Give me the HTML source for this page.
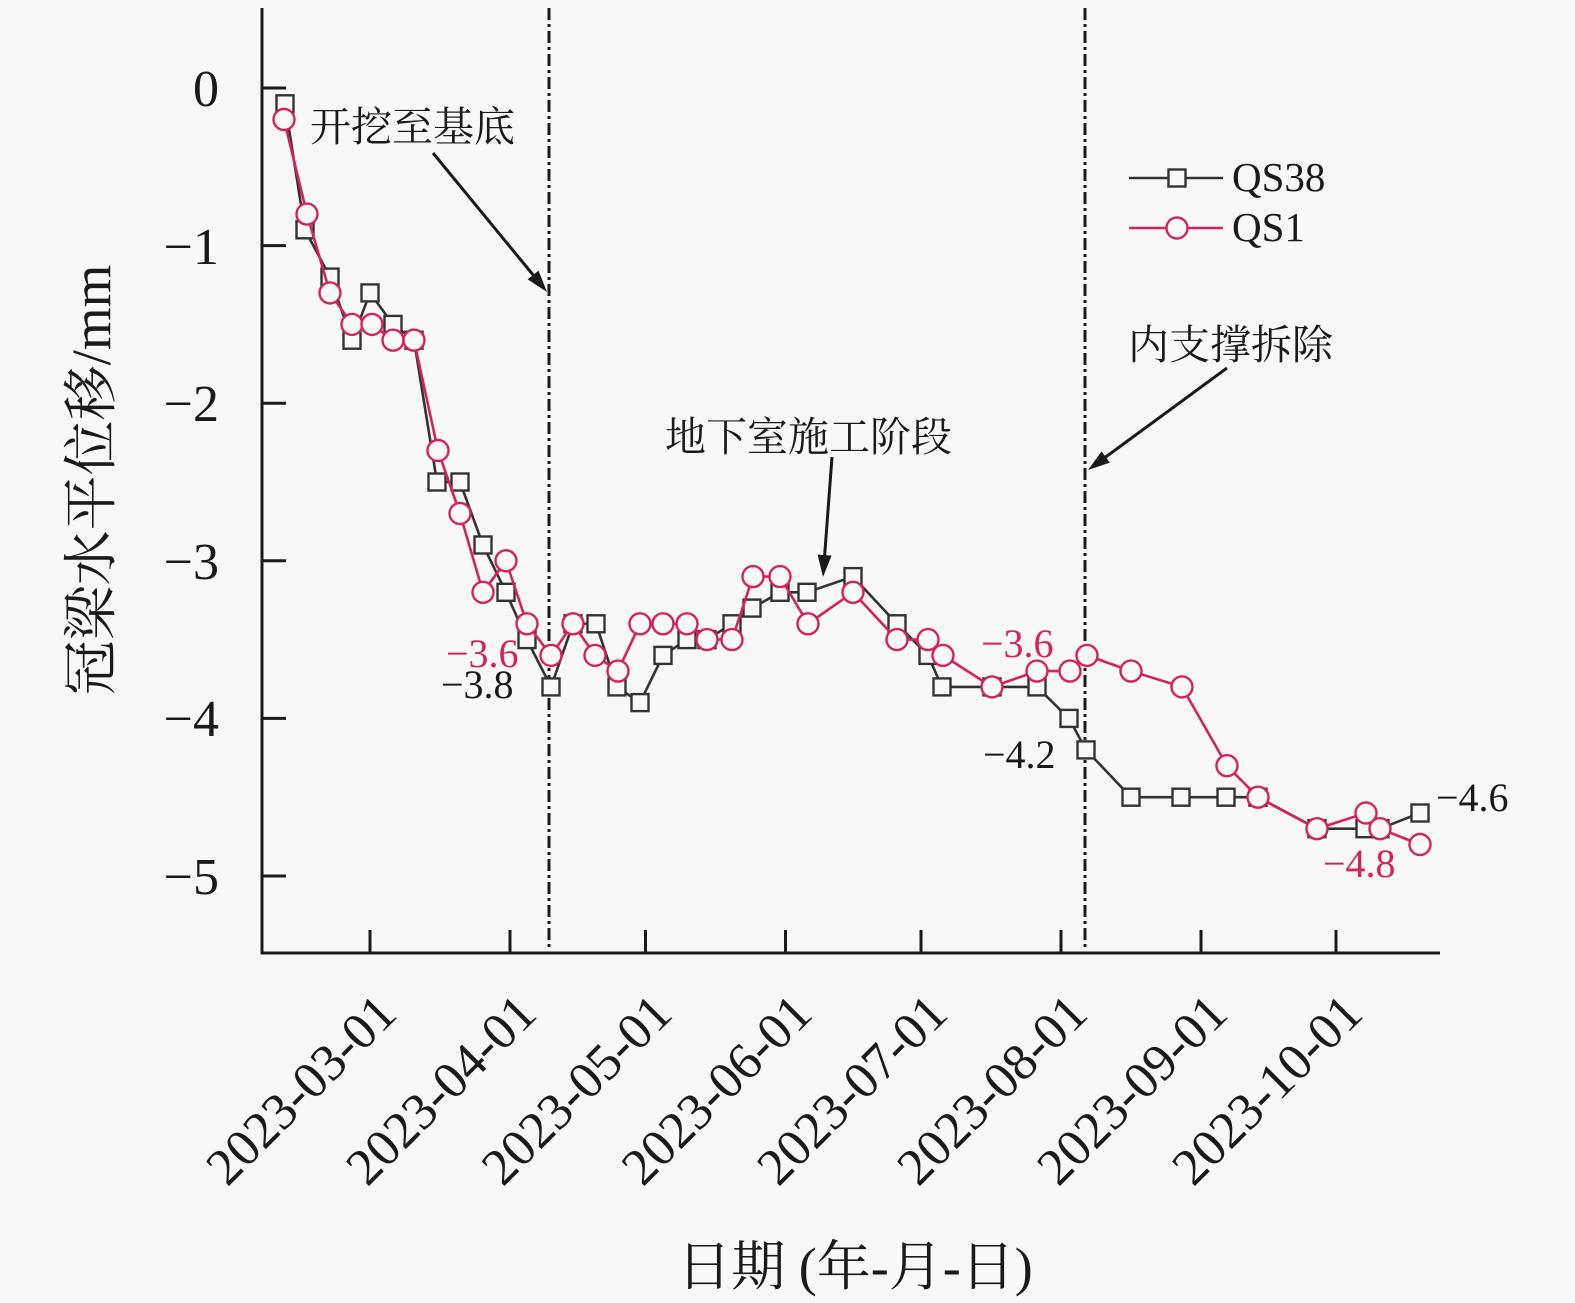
<!DOCTYPE html>
<html>
<head>
<meta charset="utf-8">
<style>
  html, body { margin:0; padding:0; background:#f8f8f8; }
  svg { display:block; }
  .ser { font-family: "Liberation Serif", "Noto Serif CJK SC", serif; }
</style>
</head>
<body>
<svg width="1575" height="1303" viewBox="0 0 1575 1303" xmlns="http://www.w3.org/2000/svg">
  <rect x="0" y="0" width="1575" height="1303" fill="#f8f8f8"/>

  <g stroke="#1a1a1a" stroke-width="3" fill="none">
    <line x1="262" y1="8" x2="262" y2="954"/>
    <line x1="261" y1="953" x2="1440" y2="953"/>
    <line x1="262" y1="88" x2="286" y2="88"/>
    <line x1="262" y1="245.6" x2="286" y2="245.6"/>
    <line x1="262" y1="403.2" x2="286" y2="403.2"/>
    <line x1="262" y1="560.8" x2="286" y2="560.8"/>
    <line x1="262" y1="718.4" x2="286" y2="718.4"/>
    <line x1="262" y1="876" x2="286" y2="876"/>
    <line x1="370" y1="953" x2="370" y2="930"/>
    <line x1="510" y1="953" x2="510" y2="930"/>
    <line x1="645.5" y1="953" x2="645.5" y2="930"/>
    <line x1="785.5" y1="953" x2="785.5" y2="930"/>
    <line x1="921" y1="953" x2="921" y2="930"/>
    <line x1="1061" y1="953" x2="1061" y2="930"/>
    <line x1="1201" y1="953" x2="1201" y2="930"/>
    <line x1="1336" y1="953" x2="1336" y2="930"/>
  </g>

  <g class="ser" font-size="52" fill="#1a1a1a" text-anchor="end">
    <text x="219" y="106">0</text>
    <text x="219" y="264">−1</text>
    <text x="219" y="421">−2</text>
    <text x="219" y="579">−3</text>
    <text x="219" y="736">−4</text>
    <text x="219" y="894">−5</text>
  </g>

  <g class="ser" font-size="52" fill="#1a1a1a" text-anchor="end">
    <text transform="translate(399,1016) rotate(-45)">2023-03-01</text>
    <text transform="translate(539,1016) rotate(-45)">2023-04-01</text>
    <text transform="translate(674.5,1016) rotate(-45)">2023-05-01</text>
    <text transform="translate(814.5,1016) rotate(-45)">2023-06-01</text>
    <text transform="translate(950,1016) rotate(-45)">2023-07-01</text>
    <text transform="translate(1090,1016) rotate(-45)">2023-08-01</text>
    <text transform="translate(1230,1016) rotate(-45)">2023-09-01</text>
    <text transform="translate(1365,1016) rotate(-45)">2023-10-01</text>
  </g>

  <text class="ser" x="855" y="1285" font-size="54" fill="#1a1a1a" text-anchor="middle">日期 (年-月-日)</text>
  <text class="ser" transform="translate(110,480) rotate(-90)" font-size="55" fill="#1a1a1a" text-anchor="middle">冠梁水平位移/mm</text>

  <g stroke="#1a1a1a" stroke-width="3" stroke-dasharray="12 4 3 4" fill="none">
    <line x1="549" y1="8" x2="549" y2="951"/>
    <line x1="1085" y1="8" x2="1085" y2="951"/>
  </g>

  <g class="ser" font-size="41" fill="#1a1a1a">
    <text x="310" y="141">开挖至基底</text>
    <text x="665" y="451">地下室施工阶段</text>
    <text x="1128" y="359">内支撑拆除</text>
  </g>
  <g stroke="#1a1a1a" stroke-width="3" fill="none">
    <line x1="433" y1="153" x2="534" y2="276"/>
    <line x1="832" y1="457" x2="824.6" y2="556"/>
    <line x1="1227" y1="368" x2="1105" y2="457.5"/>
  </g>
  <g fill="#1a1a1a" stroke="none">
    <polygon points="547,292 527.7,279.4 538.5,270.6"/>
    <polygon points="823,577 817.6,554.6 831.6,555.6"/>
    <polygon points="1088,470 1101.6,451.4 1109.8,462.6"/>
  </g>

  <polyline fill="none" stroke="#333333" stroke-width="2.6" stroke-linejoin="round"
    points="285,103.8 305,229.8 330,277.1 352,340.2 370,292.9 393,324.4 414,340.2 437,482 460,482 483,545 506,592.3 527,639.6 551,686.9 573,623.8 596,623.8 617,686.9 640,702.6 663,655.4 687,639.6 707,639.6 732,623.8 752,608.1 780,592.3 807,592.3 853,576.6 897,623.8 928,655.4 942,686.9 992,686.9 1037,686.9 1069,718.4 1086,749.9 1131,797.2 1181,797.2 1226,797.2 1258,797.2 1317,828.7 1365,828.7 1380,828.7 1420,813"/>
  <g fill="#f8f8f8" stroke="#333333" stroke-width="2.4">
    <rect x="276.5" y="95.3" width="17" height="17"/>
    <rect x="296.5" y="221.3" width="17" height="17"/>
    <rect x="321.5" y="268.6" width="17" height="17"/>
    <rect x="343.5" y="331.7" width="17" height="17"/>
    <rect x="361.5" y="284.4" width="17" height="17"/>
    <rect x="384.5" y="315.9" width="17" height="17"/>
    <rect x="405.5" y="331.7" width="17" height="17"/>
    <rect x="428.5" y="473.5" width="17" height="17"/>
    <rect x="451.5" y="473.5" width="17" height="17"/>
    <rect x="474.5" y="536.5" width="17" height="17"/>
    <rect x="497.5" y="583.8" width="17" height="17"/>
    <rect x="518.5" y="631.1" width="17" height="17"/>
    <rect x="542.5" y="678.4" width="17" height="17"/>
    <rect x="564.5" y="615.3" width="17" height="17"/>
    <rect x="587.5" y="615.3" width="17" height="17"/>
    <rect x="608.5" y="678.4" width="17" height="17"/>
    <rect x="631.5" y="694.1" width="17" height="17"/>
    <rect x="654.5" y="646.9" width="17" height="17"/>
    <rect x="678.5" y="631.1" width="17" height="17"/>
    <rect x="698.5" y="631.1" width="17" height="17"/>
    <rect x="723.5" y="615.3" width="17" height="17"/>
    <rect x="743.5" y="599.6" width="17" height="17"/>
    <rect x="771.5" y="583.8" width="17" height="17"/>
    <rect x="798.5" y="583.8" width="17" height="17"/>
    <rect x="844.5" y="568.1" width="17" height="17"/>
    <rect x="888.5" y="615.3" width="17" height="17"/>
    <rect x="919.5" y="646.9" width="17" height="17"/>
    <rect x="933.5" y="678.4" width="17" height="17"/>
    <rect x="983.5" y="678.4" width="17" height="17"/>
    <rect x="1028.5" y="678.4" width="17" height="17"/>
    <rect x="1060.5" y="709.9" width="17" height="17"/>
    <rect x="1077.5" y="741.4" width="17" height="17"/>
    <rect x="1122.5" y="788.7" width="17" height="17"/>
    <rect x="1172.5" y="788.7" width="17" height="17"/>
    <rect x="1217.5" y="788.7" width="17" height="17"/>
    <rect x="1249.5" y="788.7" width="17" height="17"/>
    <rect x="1308.5" y="820.2" width="17" height="17"/>
    <rect x="1356.5" y="820.2" width="17" height="17"/>
    <rect x="1371.5" y="820.2" width="17" height="17"/>
    <rect x="1411.5" y="804.5" width="17" height="17"/>
  </g>

  <polyline fill="none" stroke="#d4235a" stroke-width="2.6" stroke-linejoin="round"
    points="284,119.5 307,214.1 330,292.9 352,324.4 372,324.4 393,340.2 414,340.2 438,450.5 460,513.5 483,592.3 506,560.8 527,623.8 551,655.4 573,623.8 595,655.4 618,671.1 640,623.8 663,623.8 687,623.8 707,639.6 732,639.6 753,576.6 780,576.6 808,623.8 853,592.3 897,639.6 928,639.6 943,655.4 992,686.9 1037,671.1 1070,671.1 1087,655.4 1131,671.1 1182,686.9 1227,765.7 1258,797.2 1317,828.7 1366,813 1380,828.7 1420,844.5"/>
  <g fill="#f8f8f8" stroke="#d4235a" stroke-width="2.4">
    <circle cx="284" cy="119.5" r="10.5"/>
    <circle cx="307" cy="214.1" r="10.5"/>
    <circle cx="330" cy="292.9" r="10.5"/>
    <circle cx="352" cy="324.4" r="10.5"/>
    <circle cx="372" cy="324.4" r="10.5"/>
    <circle cx="393" cy="340.2" r="10.5"/>
    <circle cx="414" cy="340.2" r="10.5"/>
    <circle cx="438" cy="450.5" r="10.5"/>
    <circle cx="460" cy="513.5" r="10.5"/>
    <circle cx="483" cy="592.3" r="10.5"/>
    <circle cx="506" cy="560.8" r="10.5"/>
    <circle cx="527" cy="623.8" r="10.5"/>
    <circle cx="551" cy="655.4" r="10.5"/>
    <circle cx="573" cy="623.8" r="10.5"/>
    <circle cx="595" cy="655.4" r="10.5"/>
    <circle cx="618" cy="671.1" r="10.5"/>
    <circle cx="640" cy="623.8" r="10.5"/>
    <circle cx="663" cy="623.8" r="10.5"/>
    <circle cx="687" cy="623.8" r="10.5"/>
    <circle cx="707" cy="639.6" r="10.5"/>
    <circle cx="732" cy="639.6" r="10.5"/>
    <circle cx="753" cy="576.6" r="10.5"/>
    <circle cx="780" cy="576.6" r="10.5"/>
    <circle cx="808" cy="623.8" r="10.5"/>
    <circle cx="853" cy="592.3" r="10.5"/>
    <circle cx="897" cy="639.6" r="10.5"/>
    <circle cx="928" cy="639.6" r="10.5"/>
    <circle cx="943" cy="655.4" r="10.5"/>
    <circle cx="992" cy="686.9" r="10.5"/>
    <circle cx="1037" cy="671.1" r="10.5"/>
    <circle cx="1070" cy="671.1" r="10.5"/>
    <circle cx="1087" cy="655.4" r="10.5"/>
    <circle cx="1131" cy="671.1" r="10.5"/>
    <circle cx="1182" cy="686.9" r="10.5"/>
    <circle cx="1227" cy="765.7" r="10.5"/>
    <circle cx="1258" cy="797.2" r="10.5"/>
    <circle cx="1317" cy="828.7" r="10.5"/>
    <circle cx="1366" cy="813" r="10.5"/>
    <circle cx="1380" cy="828.7" r="10.5"/>
    <circle cx="1420" cy="844.5" r="10.5"/>
  </g>

  <g class="ser" font-size="40">
    <text x="446" y="667" fill="#d4235a">−3.6</text>
    <text x="441" y="698" fill="#1a1a1a">−3.8</text>
    <text x="981" y="657" fill="#d4235a">−3.6</text>
    <text x="983" y="768" fill="#1a1a1a">−4.2</text>
    <text x="1436" y="811" fill="#1a1a1a">−4.6</text>
    <text x="1323" y="877" fill="#d4235a">−4.8</text>
  </g>

  <line x1="1129" y1="178" x2="1223" y2="178" stroke="#333333" stroke-width="2.6"/>
  <rect x="1168.5" y="169.5" width="17" height="17" fill="#f8f8f8" stroke="#333333" stroke-width="2.4"/>
  <line x1="1129" y1="228" x2="1223" y2="228" stroke="#d4235a" stroke-width="2.6"/>
  <circle cx="1177" cy="228" r="10.5" fill="#f8f8f8" stroke="#d4235a" stroke-width="2.4"/>
  <g class="ser" font-size="41" fill="#1a1a1a">
    <text x="1232" y="191">QS38</text>
    <text x="1232" y="241">QS1</text>
  </g>
</svg>
</body>
</html>
